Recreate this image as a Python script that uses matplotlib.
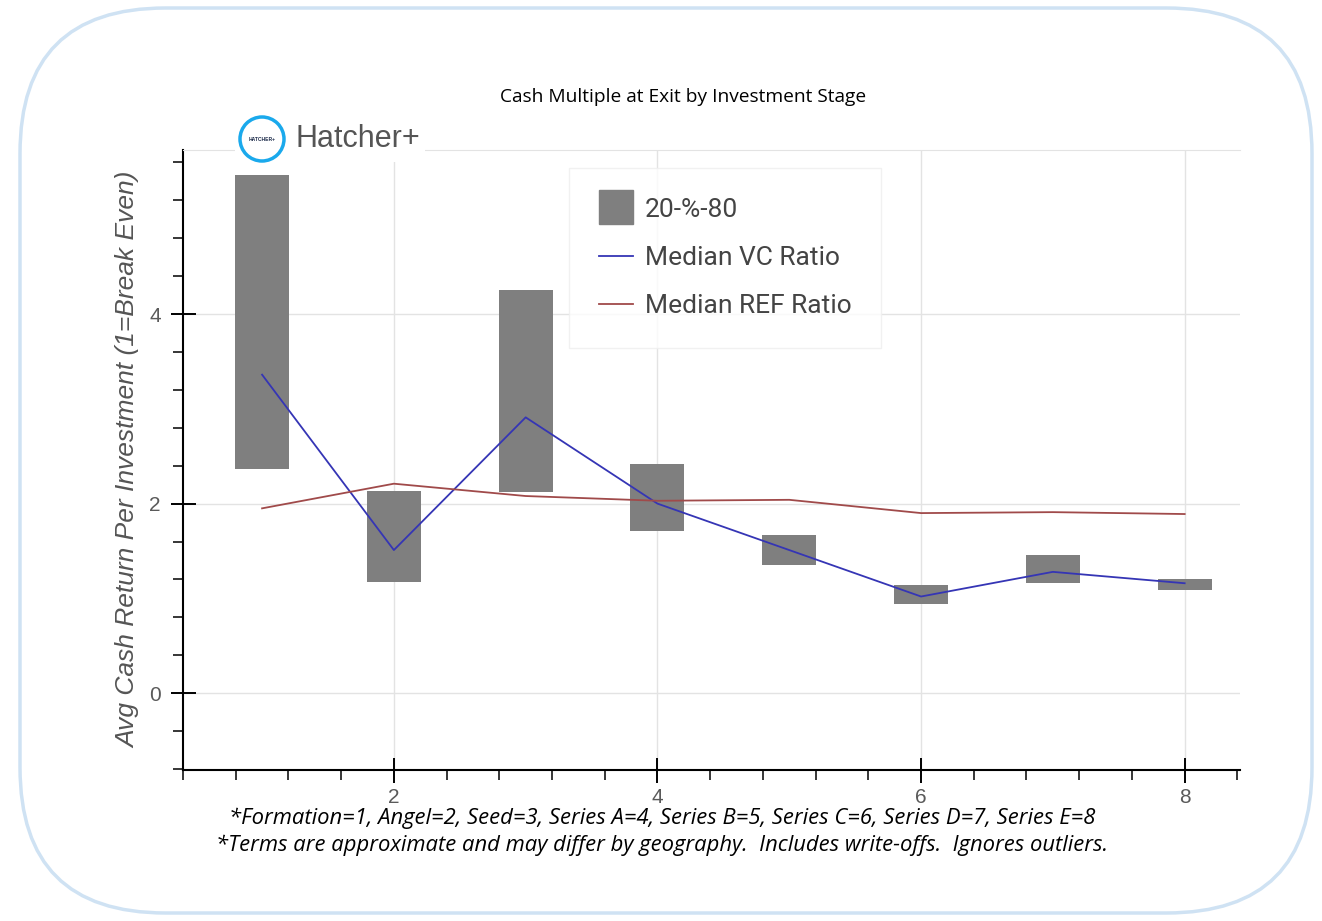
import numpy as np
import matplotlib.pyplot as plt
from matplotlib.patches import FancyBboxPatch, Ellipse
from matplotlib.lines import Line2D

#==================== data
stages    = [1, 2, 3, 4, 5, 6, 7, 8]
p20       = [2.36, 1.17, 2.12, 1.71, 1.35, 0.94, 1.16, 1.09]
p80       = [5.47, 2.13, 4.25, 2.42, 1.67, 1.14, 1.46, 1.21]
vc_median = [3.36, 1.51, 2.91, 2.00, 1.51, 1.02, 1.28, 1.16]
ref_median = [1.95, 2.21, 2.08, 2.03, 2.04, 1.90, 1.91, 1.89]
x_ticks   = [2, 4, 6, 8]
y_ticks   = [0, 2, 4]

footnote1 = "*Formation=1, Angel=2, Seed=3, Series A=4, Series B=5, Series C=6, Series D=7, Series E=8"
footnote2 = "*Terms are approximate and may differ by geography.  Includes write-offs.  Ignores outliers."

plt.rcParams['font.family'] = ['Liberation Sans', 'DejaVu Sans']

W, H = 1322, 921
fig = plt.figure(figsize=(W/100, H/100), dpi=100)

#==================== rounded frame
frame = FancyBboxPatch((20/W, 8/H), 1292/W, 905/H,
                       boxstyle="round,pad=0,rounding_size=0.11",
                       transform=fig.transFigure, fill=False,
                       edgecolor="#cfe2f3", linewidth=2.5,
                       mutation_aspect=W/H)
fig.patches.append(frame)

#==================== axes
ax = fig.add_axes([183/W, 1-770/H, (1240-183)/W, (770-150)/H])
ax.set_xlim(0.42, 8.42)
ax.set_ylim(-0.81, 5.73)

bar_col = "#7f7f7f"
vc_col  = "#3535b5"
ref_col = "#a04a4a"
heights = np.array(p80) - np.array(p20)
ax.bar(stages, heights, bottom=p20, width=0.41, color=bar_col, zorder=3)
ax.plot(stages, vc_median, color=vc_col, lw=1.3, zorder=4)
ax.plot(stages, ref_median, color=ref_col, lw=1.3, zorder=4)

ax.set_xticks(x_ticks)
ax.set_yticks(y_ticks)
ax.set_xticks(np.arange(0.4, 8.5, 0.4), minor=True)
ax.set_yticks(np.arange(-0.8, 5.7, 0.4), minor=True)
ax.tick_params(axis="both", which="major", length=18, width=1.4,
               labelsize=15, labelcolor="#5a5a5a", direction="inout")
ax.tick_params(axis="x", which="major", pad=4)
ax.tick_params(axis="y", which="major", pad=7)
ax.tick_params(axis="both", which="minor", length=7, width=1.1,
               direction="out")
ax.grid(True, which="major", color="#e3e3e3", lw=1.0, zorder=0)
ax.spines["right"].set_visible(False)
ax.spines["top"].set_color("#e3e3e3")
ax.spines["left"].set_linewidth(1.5)
ax.spines["bottom"].set_linewidth(1.5)

ax.set_ylabel("Avg Cash Return Per Investment (1=Break Even)",
              fontsize=19, style="italic", color="#555555", labelpad=6)

handles = [Line2D([], [], color=bar_col, marker="s", markersize=24, lw=0,
                  label="20-%-80"),
           Line2D([], [], color=vc_col, lw=1.3, label="Median VC Ratio"),
           Line2D([], [], color=ref_col, lw=1.3, label="Median REF Ratio")]
leg = ax.legend(handles=handles, loc="upper left",
                bbox_to_anchor=((569-183)/(1240-183), 1-(168-150)/(770-150)),
                prop={"family": "Roboto", "size": 19}, frameon=True,
                fancybox=False, borderpad=1.12, labelspacing=0.92,
                handlelength=1.3, handletextpad=0.45, borderaxespad=0)
leg.get_frame().set_edgecolor("#eeeeee")
for t in leg.get_texts():
    t.set_color("#444444")

#==================== logo
fig.patches.append(FancyBboxPatch((235/W, 1-162/H), 190/W, 44/H,
                                  boxstyle="square,pad=0",
                                  transform=fig.transFigure,
                                  facecolor="white", edgecolor="none"))
fig.patches.append(Ellipse((262/W, 1-139/H), 44/W, 44/H,
                           transform=fig.transFigure, fill=False,
                           edgecolor="#1aa9ec", linewidth=2.5))
fig.text(262/W, 1-139/H, "HATCHER+", fontsize=3.6, weight="bold",
         color="#1c2b4a", ha="center", va="center")
fig.text(295/W, 1-139/H, "Hatcher+", fontsize=22, color="#555555",
         ha="left", va="center")

#==================== title and notes
fig.text(683/W, 1-97/H, "Cash Multiple at Exit by Investment Stage",
         fontsize=13.8, ha="center", va="center", family="Open Sans")
fig.text(662/W, 1-818/H, footnote1, fontsize=15.8, style="italic",
         ha="center", va="center", family="Open Sans")
fig.text(662/W, 1-845/H, footnote2, fontsize=15.8, style="italic",
         ha="center", va="center", family="Open Sans")

fig.savefig("out.png", dpi=100)
